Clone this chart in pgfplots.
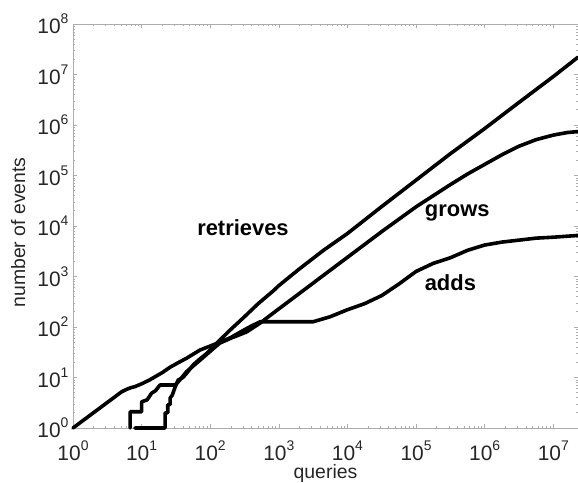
\documentclass[border=0pt]{standalone}
\usepackage{pgfplots}
\pgfplotsset{compat=1.18}
\usepackage{fontspec}
\setmainfont{Liberation Sans}

% power-of-ten tick label set in the text font
\newcommand{\pw}[1]{10\raisebox{0.48em}{\fontsize{14}{14}\selectfont #1}}

\begin{document}
\begin{tikzpicture}
\begin{axis}[
  name=ax,
  scale only axis,
  width=505bp, height=404bp,
  xmode=log, ymode=log,
  xmin=1, xmax=2.29e7,
  ymin=1, ymax=1e8,
  clip=false,
  axis line style={gray!65, line width=0.8bp},
  tick style={gray!65, line width=0.6bp},
  major tick length=4bp,
  minor tick length=2.5bp,
  tick align=inside,
  xtick={1,10,100,1000,10000,100000,1000000,10000000},
  xticklabels={\pw{0},\pw{1},\pw{2},\pw{3},\pw{4},\pw{5},\pw{6},\pw{7}},
  ytick={1,10,100,1000,10000,100000,1000000,10000000,100000000},
  yticklabels={\pw{0},\pw{1},\pw{2},\pw{3},\pw{4},\pw{5},\pw{6},\pw{7},\pw{8}},
  ticklabel style={font=\fontsize{21}{21}\selectfont, text=black!85},
  xticklabel style={anchor=base, yshift=-32.8bp, inner sep=0pt},
  yticklabel style={anchor=east, xshift=-1bp},
  xlabel={queries},
  ylabel={number of events},
  label style={font=\fontsize{19.5}{19.5}\selectfont, text=black!85},
  xlabel style={at={(axis description cs:0.5,-0.1245)}, anchor=base, inner sep=0pt},
  ylabel style={at={(axis description cs:-0.095,0.484)}, anchor=base},
  cycle list={{black, no markers}},
  every axis plot/.append style={black, no markers, line width=3.6bp, line join=round, line cap=round},
]

% retrieves
\addplot coordinates {
 (8,1) (22,1) (22,2) (24,2) (24,2.9) (26,2.9) (26,3.9) (28,4.5) (31,6.6)
 (34,8.9) (40,10) (45,12) (57,18) (70,23) (89,30) (110,40) (138,55)
 (195,87) (316,160) (500,290) (830,520) (1000,660) (2000,1420) (4470,3300)
 (10000,7100) (30000,23000) (100000,81000) (316000,270000) (1000000,850000)
 (3160000,2800000) (10000000,9100000) (22900000,22000000)
};

% grows
\addplot coordinates {
 (6.8,1) (6.8,2.1) (10,2.1) (10,3.3) (12,3.6) (14,4.9) (16,5.5) (18.5,7.1)
 (31,7.1) (36,8.9) (45,13) (71,22) (100,33) (138,48) (200,60) (340,80)
 (535,120) (1000,229) (3162,741) (10000,2400) (31620,7760) (100000,24000)
 (316200,66000) (562000,107000) (1000000,166000) (1780000,257000)
 (3162000,380000) (5620000,513000) (10000000,631000) (15850000,708000)
 (22900000,741000)
};

% adds
\addplot coordinates {
 (1,1) (5.1,5.2) (6,5.8) (7,6.3) (8,6.6) (10,7.5) (13,8.9) (16,10.5)
 (20,12.5) (26,16) (35,20) (45,24) (71,35) (100,42) (138,50) (200,62)
 (300,85) (400,105) (535,127) (3160,127) (5620,160) (10000,220)
 (17800,290) (31620,420) (56200,710) (100000,1260) (177800,1820)
 (316200,2350) (562000,3300) (1000000,4200) (1780000,4800)
 (3162000,5250) (5620000,5750) (10000000,6000) (22900000,6500)
};

\node[font=\fontsize{22}{22}\selectfont\bfseries] at (axis cs:300,9300) {retrieves};
\node[font=\fontsize{22}{22}\selectfont\bfseries] at (axis cs:398000,18200) {grows};
\node[font=\fontsize{22}{22}\selectfont\bfseries] at (axis cs:316000,740) {adds};
\end{axis}
\pgfresetboundingbox
\path ([shift={(-73bp,-55bp)}]ax.south west) rectangle ([shift={(0bp,24bp)}]ax.north east);
\end{tikzpicture}
\end{document}
